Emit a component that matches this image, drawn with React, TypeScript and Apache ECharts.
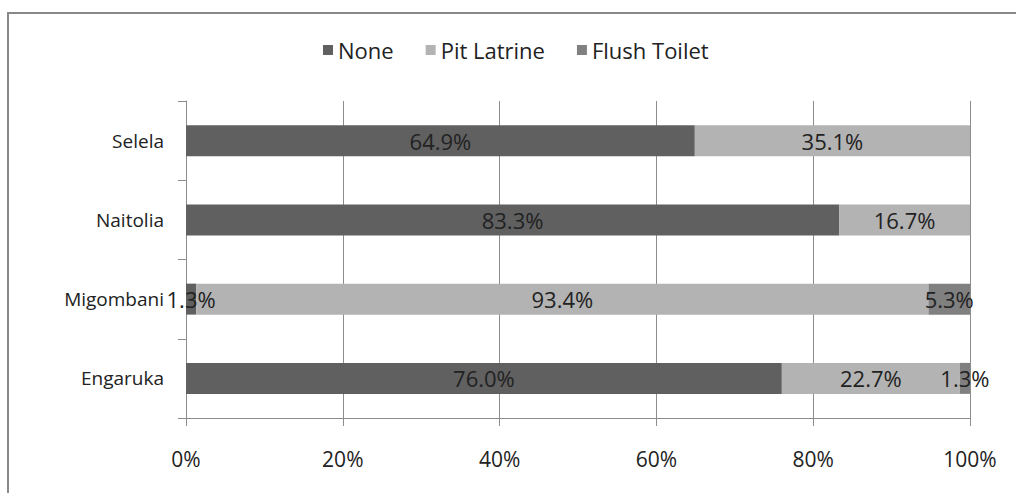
import React, { useEffect, useRef } from "react";
import * as echarts from "echarts";

const categories = ["Engaruka", "Migombani", "Naitolia", "Selela"];
const noneValues = [76.0, 1.3, 83.3, 64.9];
const pitLatrineValues = [22.7, 93.4, 16.7, 35.1];
const flushToiletValues = [1.3, 5.3, 0, 0];
const seriesNames = ["None", "Pit Latrine", "Flush Toilet"];
const seriesColors = ["#606060", "#b3b3b3", "#808080"];
const xTicks = [0, 20, 40, 60, 80, 100];

const FONT = "'Open Sans', 'Noto Sans', sans-serif";

export default function App() {
  const ref = useRef<HTMLDivElement>(null);
  useEffect(() => {
    if (!ref.current) return;
    const chart = echarts.init(ref.current, null, { renderer: "svg" });
    const dataSets = [noneValues, pitLatrineValues, flushToiletValues];
    chart.setOption({
      animation: false,
      backgroundColor: "#ffffff",
      textStyle: { fontFamily: FONT },
      graphic: [
        {
          type: "rect",
          shape: { x: 8, y: 13, width: 1100, height: 600 },
          style: { fill: "none", stroke: "#898989", lineWidth: 2 },
          silent: true,
        },
      ],
      legend: {
        data: seriesNames,
        top: 34,
        left: 318,
        itemWidth: 10,
        itemHeight: 10,
        itemGap: 32,
        icon: "rect",
        textStyle: { fontFamily: FONT, fontSize: 22, color: "#222" },
      },
      grid: { left: 186, right: 46, top: 101, bottom: 75, containLabel: false },
      xAxis: {
        type: "value",
        min: xTicks[0],
        max: xTicks[xTicks.length - 1],
        interval: 20,
        axisLine: { show: true, lineStyle: { color: "#8c8c8c", width: 1 } },
        axisTick: { show: true, length: 8, lineStyle: { color: "#8c8c8c" } },
        axisLabel: {
          formatter: "{value}%",
          margin: 30,
          fontFamily: FONT,
          fontSize: 21,
          color: "#222",
        },
        splitLine: { show: true, lineStyle: { color: "#8c8c8c", width: 1 } },
      },
      yAxis: {
        type: "category",
        data: categories,
        axisLine: { show: true, lineStyle: { color: "#8c8c8c", width: 1 } },
        axisTick: { show: true, length: 8, lineStyle: { color: "#8c8c8c" } },
        axisLabel: {
          margin: 22,
          fontFamily: FONT,
          fontSize: 19,
          color: "#222",
        },
      },
      series: seriesNames.map((name, i) => ({
        name,
        type: "bar",
        stack: "total",
        barWidth: 31,
        data: dataSets[i],
        itemStyle: { color: seriesColors[i] },
        label: {
          show: true,
          position: "inside",
          fontFamily: FONT,
          fontSize: 22,
          color: "#222",
          formatter: (p: any) => (p.value > 0 ? p.value.toFixed(1) + "%" : ""),
        },
      })),
    });
    return () => chart.dispose();
  }, []);
  return (
    <div
      ref={ref}
      style={{ position: "fixed", left: 0, top: 0, width: 1016, height: 493 }}
    />
  );
}
